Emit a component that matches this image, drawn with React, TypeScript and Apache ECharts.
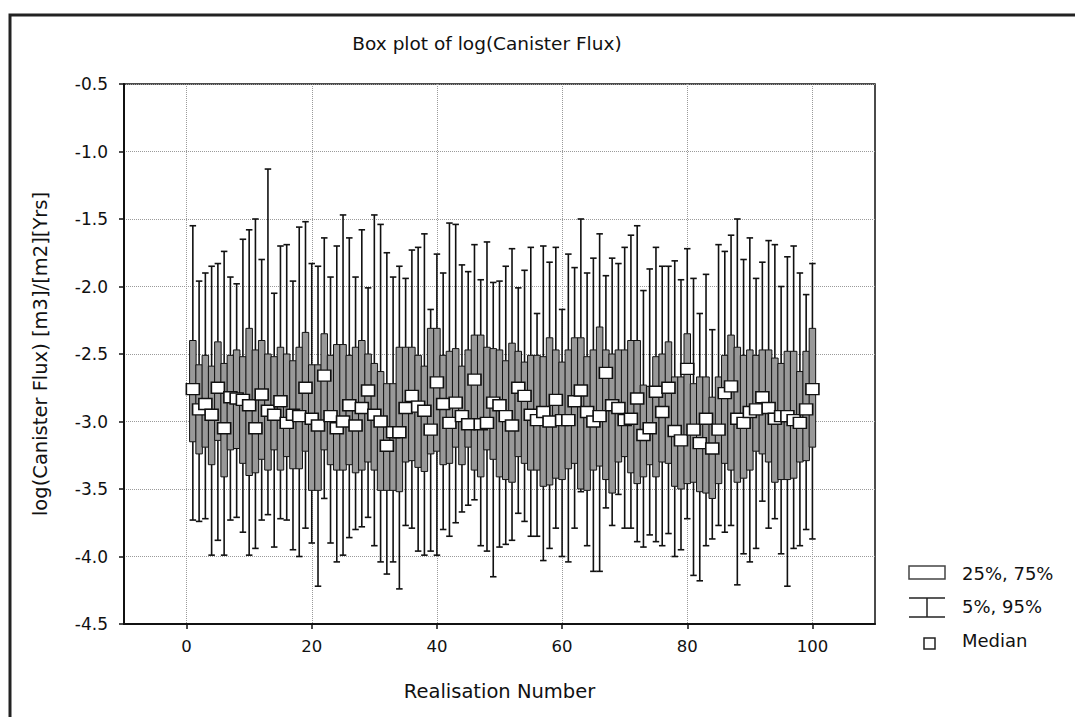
import { useEffect, useRef } from 'react';
import * as echarts from 'echarts';

const realisations = Array.from({ length: 100 }, (_, i) => i + 1);

const p95 = [
  -1.55, -1.96, -1.90, -1.85, -1.83, -1.74, -1.93, -1.98, -1.65, -1.58,
  -1.50, -1.80, -1.13, -2.05, -1.70, -1.69, -1.96, -1.56, -1.52, -1.83,
  -1.85, -1.64, -1.93, -1.70, -1.47, -1.64, -1.93, -1.58, -2.01, -1.47,
  -1.54, -1.75, -1.93, -1.85, -1.94, -1.73, -1.71, -1.61, -2.17, -1.76,
  -1.90, -1.53, -1.54, -1.84, -1.89, -1.69, -1.95, -1.67, -1.97, -1.96,
  -1.85, -1.72, -2.01, -1.88, -1.71, -2.20, -1.70, -1.82, -1.71, -2.17,
  -1.76, -1.86, -1.50, -1.90, -1.79, -1.61, -1.92, -1.79, -1.83, -1.71,
  -1.62, -1.55, -2.03, -1.87, -1.71, -1.85, -1.85, -1.81, -1.95, -1.72,
  -1.94, -2.20, -1.91, -2.32, -1.69, -1.74, -1.62, -1.50, -1.80, -1.64,
  -1.94, -1.82, -1.66, -1.69, -2.00, -1.78, -1.70, -1.90, -2.06, -1.83,
];

const p75 = [
  -2.40, -2.58, -2.51, -2.59, -2.41, -2.57, -2.51, -2.47, -2.52, -2.31,
  -2.47, -2.40, -2.50, -2.52, -2.45, -2.50, -2.55, -2.45, -2.34, -2.58,
  -2.58, -2.35, -2.51, -2.43, -2.43, -2.51, -2.45, -2.40, -2.50, -2.57,
  -2.63, -2.72, -2.72, -2.45, -2.45, -2.45, -2.51, -2.59, -2.31, -2.31,
  -2.51, -2.48, -2.46, -2.59, -2.47, -2.36, -2.36, -2.45, -2.46, -2.47,
  -2.55, -2.42, -2.48, -2.56, -2.51, -2.51, -2.52, -2.38, -2.47, -2.56,
  -2.47, -2.38, -2.38, -2.52, -2.47, -2.30, -2.47, -2.50, -2.47, -2.47,
  -2.40, -2.40, -2.73, -2.74, -2.52, -2.50, -2.41, -2.67, -2.67, -2.35,
  -2.72, -2.67, -2.67, -2.82, -2.67, -2.51, -2.36, -2.45, -2.51, -2.47,
  -2.51, -2.47, -2.47, -2.53, -2.57, -2.48, -2.48, -2.63, -2.48, -2.31,
];

const median = [
  -2.76, -2.91, -2.87, -2.95, -2.75, -3.05, -2.82, -2.83, -2.84, -2.88,
  -3.05, -2.80, -2.92, -2.95, -2.85, -3.01, -2.95, -2.96, -2.75, -2.98,
  -3.03, -2.66, -2.96, -3.05, -3.00, -2.88, -3.03, -2.90, -2.77, -2.95,
  -3.00, -3.18, -3.08, -3.08, -2.90, -2.81, -2.89, -2.92, -3.06, -2.71,
  -2.87, -3.01, -2.86, -2.96, -3.02, -2.69, -3.02, -3.01, -2.86, -2.88,
  -2.96, -3.03, -2.75, -2.81, -2.95, -2.99, -2.93, -3.00, -2.84, -2.99,
  -2.99, -2.85, -2.77, -2.93, -3.00, -2.96, -2.64, -2.88, -2.90, -2.99,
  -2.98, -2.83, -3.10, -3.05, -2.78, -2.93, -2.75, -3.07, -3.14, -2.61,
  -3.06, -3.16, -2.98, -3.20, -3.06, -2.79, -2.74, -2.98, -3.01, -2.93,
  -2.91, -2.82, -2.90, -2.98, -2.96, -2.96, -2.99, -3.01, -2.91, -2.76,
];

const p25 = [
  -3.15, -3.24, -3.19, -3.32, -3.14, -3.41, -3.21, -3.20, -3.31, -3.40,
  -3.38, -3.28, -3.36, -3.21, -3.36, -3.26, -3.35, -3.35, -3.22, -3.51,
  -3.51, -3.21, -3.32, -3.36, -3.36, -3.32, -3.38, -3.36, -3.30, -3.36,
  -3.51, -3.51, -3.51, -3.52, -3.30, -3.29, -3.34, -3.37, -3.24, -3.22,
  -3.32, -3.31, -3.19, -3.32, -3.19, -3.36, -3.41, -3.21, -3.28, -3.41,
  -3.43, -3.45, -3.26, -3.31, -3.36, -3.36, -3.48, -3.47, -3.42, -3.43,
  -3.35, -3.31, -3.50, -3.51, -3.36, -3.33, -3.43, -3.53, -3.30, -3.26,
  -3.38, -3.46, -3.41, -3.32, -3.41, -3.30, -3.31, -3.48, -3.50, -3.46,
  -3.45, -3.52, -3.53, -3.57, -3.46, -3.31, -3.36, -3.45, -3.42, -3.36,
  -3.22, -3.24, -3.30, -3.45, -3.43, -3.43, -3.42, -3.30, -3.29, -3.19,
];

const p05 = [
  -3.73, -3.74, -3.72, -3.99, -3.88, -3.99, -3.73, -3.71, -3.82, -3.99,
  -3.94, -3.73, -3.69, -3.93, -3.72, -3.73, -3.95, -4.00, -3.79, -3.90,
  -4.22, -3.57, -3.90, -4.04, -3.99, -3.86, -3.80, -3.78, -3.71, -3.92,
  -4.04, -4.13, -4.04, -4.24, -3.77, -3.79, -3.96, -3.99, -3.96, -3.99,
  -3.80, -3.85, -3.75, -3.67, -3.62, -3.58, -3.92, -3.96, -4.15, -3.93,
  -3.91, -3.88, -3.68, -3.74, -3.85, -3.85, -4.03, -3.94, -3.79, -4.00,
  -4.04, -3.79, -3.52, -3.92, -4.11, -4.11, -3.64, -3.77, -3.54, -3.79,
  -3.79, -3.89, -3.93, -3.84, -3.89, -3.92, -3.83, -4.00, -3.95, -3.72,
  -4.14, -4.18, -3.92, -3.87, -3.77, -3.82, -3.77, -4.21, -3.98, -4.04,
  -3.94, -3.59, -3.79, -3.72, -3.98, -4.22, -3.94, -3.92, -3.80, -3.87,
];

const xTicks = [0, 20, 40, 60, 80, 100];
const xMin = -10;
const xMax = 110;
const yMin = -4.5;
const yMax = -0.5;
const yStep = 0.5;

const titleText = 'Box plot of log(Canister Flux)';
const xName = 'Realisation Number';
const yName = 'log(Canister Flux) [m3]/[m2][Yrs]';
const legendBox = '25%, 75%';
const legendWhisker = '5%, 95%';
const legendMedian = 'Median';

const FONT = 'DejaVu Sans';
const INK = '#111';

export default function App() {
  const ref = useRef<HTMLDivElement>(null);

  useEffect(() => {
    const chart = echarts.init(ref.current!, null, { renderer: 'svg' });
    const boxData = realisations.map((r, i) => [r, p05[i], p25[i], median[i], p75[i], p95[i]]);
    const medData = realisations.map((r, i) => [r, median[i]]);

    const option: any = {
      animation: false,
      backgroundColor: '#fff',
      textStyle: { fontFamily: FONT },
      grid: {
        left: 124,
        right: 200,
        top: 84,
        bottom: 93,
        show: true,
        borderColor: INK,
        borderWidth: 1.5,
        backgroundColor: 'transparent',
      },
      xAxis: {
        type: 'value',
        min: xMin,
        max: xMax,
        name: xName,
        nameLocation: 'middle',
        nameGap: 57,
        nameTextStyle: { fontSize: 19.5, color: INK, fontFamily: FONT },
        axisLine: { show: true, onZero: false, lineStyle: { color: INK, width: 2 } },
        axisTick: { show: true, length: 5, customValues: xTicks, lineStyle: { color: INK, width: 1.5 } },
        axisLabel: { customValues: xTicks, margin: 14, fontSize: 16.5, color: INK, fontFamily: FONT },
        splitLine: { show: true, lineStyle: { color: '#9a9a9a', type: 'dotted', width: 1 } },
      },
      yAxis: {
        type: 'value',
        min: yMin,
        max: yMax,
        interval: yStep,
        name: yName,
        nameLocation: 'middle',
        nameGap: 74,
        nameTextStyle: { fontSize: 19.5, color: INK, fontFamily: FONT },
        axisLine: { show: true, onZero: false, lineStyle: { color: INK, width: 2 } },
        axisTick: { show: true, length: 5, lineStyle: { color: INK, width: 1.5 } },
        axisLabel: {
          margin: 16,
          fontSize: 17,
          color: INK,
          fontFamily: FONT,
          formatter: (v: number) => v.toFixed(1),
        },
        splitLine: { show: true, lineStyle: { color: '#9a9a9a', type: 'dotted', width: 1 } },
      },
      series: [
        {
          name: legendBox,
          type: 'custom',
          data: boxData,
          encode: { x: 0, y: [1, 2, 3, 4, 5] },
          z: 2,
          renderItem: (params: any, api: any) => {
            const x = api.value(0);
            const c05 = api.coord([x, api.value(1)]);
            const c25 = api.coord([x, api.value(2)]);
            const c75 = api.coord([x, api.value(4)]);
            const c95 = api.coord([x, api.value(5)]);
            const hw = api.size([1, 0])[0] * 0.52;
            const cx = c25[0];
            const stroke = { stroke: INK, lineWidth: 1.6 };
            return {
              type: 'group',
              children: [
                { type: 'line', shape: { x1: cx, y1: c95[1], x2: cx, y2: c75[1] }, style: stroke },
                { type: 'line', shape: { x1: cx - hw, y1: c95[1], x2: cx + hw, y2: c95[1] }, style: stroke },
                { type: 'line', shape: { x1: cx, y1: c25[1], x2: cx, y2: c05[1] }, style: stroke },
                { type: 'line', shape: { x1: cx - hw, y1: c05[1], x2: cx + hw, y2: c05[1] }, style: stroke },
                {
                  type: 'rect',
                  shape: { x: cx - hw, y: c75[1], width: hw * 2, height: c25[1] - c75[1] },
                  style: { fill: '#999', stroke: INK, lineWidth: 1 },
                },
              ],
            };
          },
        },
        {
          name: legendMedian,
          type: 'scatter',
          data: medData,
          symbol: 'rect',
          symbolSize: [13, 11],
          z: 5,
          itemStyle: { color: '#fff', borderColor: INK, borderWidth: 1.5, opacity: 1 },
        },
      ],
      graphic: [
        {
          type: 'rect',
          silent: true,
          shape: { x: 10, y: 15, width: 1100, height: 800 },
          style: { fill: 'none', stroke: '#222', lineWidth: 3 },
        },
        {
          type: 'text',
          x: 487,
          y: 43,
          style: { text: titleText, fontSize: 18.5, fontFamily: FONT, fill: INK, textAlign: 'center', textVerticalAlign: 'middle' },
        },
        {
          type: 'rect',
          shape: { x: 909, y: 566, width: 36, height: 13 },
          style: { fill: '#fff', stroke: '#444', lineWidth: 1.5 },
        },
        {
          type: 'text',
          x: 962,
          y: 573,
          style: { text: legendBox, fontSize: 18, fontFamily: FONT, fill: INK, textVerticalAlign: 'middle' },
        },
        { type: 'line', shape: { x1: 909, y1: 598, x2: 945, y2: 598 }, style: { stroke: '#222', lineWidth: 1.5 } },
        { type: 'line', shape: { x1: 927, y1: 598, x2: 927, y2: 617 }, style: { stroke: '#222', lineWidth: 1.5 } },
        { type: 'line', shape: { x1: 909, y1: 617, x2: 945, y2: 617 }, style: { stroke: '#222', lineWidth: 1.5 } },
        {
          type: 'text',
          x: 962,
          y: 606,
          style: { text: legendWhisker, fontSize: 18, fontFamily: FONT, fill: INK, textVerticalAlign: 'middle' },
        },
        {
          type: 'rect',
          shape: { x: 924, y: 638, width: 11, height: 11 },
          style: { fill: '#fff', stroke: '#222', lineWidth: 1.5 },
        },
        {
          type: 'text',
          x: 962,
          y: 640,
          style: { text: legendMedian, fontSize: 18, fontFamily: FONT, fill: INK, textVerticalAlign: 'middle' },
        },
      ],
    };

    chart.setOption(option);
    return () => chart.dispose();
  }, []);

  return <div ref={ref} style={{ position: 'fixed', left: 0, top: 0, width: 1075, height: 717 }} />;
}
